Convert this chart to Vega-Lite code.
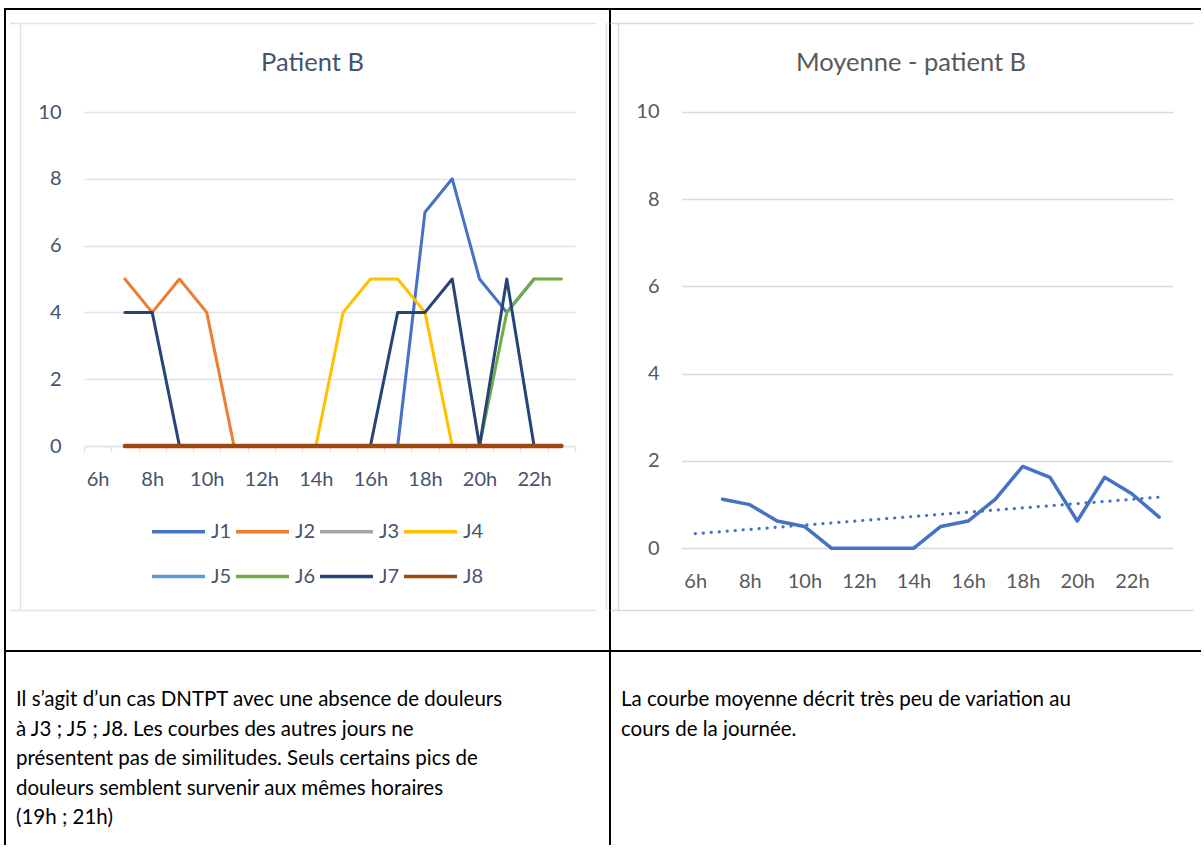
{
  "$schema": "https://vega.github.io/schema/vega-lite/v6.json",
  "background": "#ffffff",
  "padding": {"left": 4, "top": 8, "right": 0, "bottom": 0},
  "config": {"view": {"stroke": null}, "font": "Lato", "text": {"font": "Lato"}},
  "spacing": 0,
  "bounds": "flush",
  "columns": 2,
  "concat": [
    {
      "width": 605,
      "height": 642,
      "view": {"stroke": "#000000", "strokeWidth": 2},
      "title": {"text": "Patient B", "anchor": "middle", "frame": "group", "dx": 5, "offset": -87, "baseline": "alphabetic", "font": "Lato", "fontSize": 25.5, "fontWeight": "normal", "color": "#44546A"},
      "layer": [
        {
          "data": {"values": [{"f": 0}, {"f": 1}]},
          "mark": {"type": "point", "opacity": 0},
          "encoding": {
            "x": {"field": "f", "type": "quantitative", "scale": {"domain": [0, 1], "range": [14.5, 600.5], "nice": false, "zero": false},
                  "axis": {"orient": "top", "values": [0, 1], "grid": true, "gridColor": "#DEE3EA", "gridWidth": 1.5, "labels": false, "ticks": false, "domain": false, "title": null}},
            "y": {"field": "f", "type": "quantitative", "scale": {"domain": [0, 1], "range": [601, 13.5], "nice": false, "zero": false},
                  "axis": {"orient": "right", "values": [0, 1], "grid": true, "gridColor": "#DEE3EA", "gridWidth": 1.5, "labels": false, "ticks": false, "domain": false, "title": null}}
          }
        },
        {
          "data": {"values": [
            {"jour": "J1", "heure": 7, "valeur": 0}, {"jour": "J1", "heure": 8, "valeur": 0}, {"jour": "J1", "heure": 9, "valeur": 0}, {"jour": "J1", "heure": 10, "valeur": 0},
            {"jour": "J1", "heure": 11, "valeur": 0}, {"jour": "J1", "heure": 12, "valeur": 0}, {"jour": "J1", "heure": 13, "valeur": 0}, {"jour": "J1", "heure": 14, "valeur": 0},
            {"jour": "J1", "heure": 15, "valeur": 0}, {"jour": "J1", "heure": 16, "valeur": 0}, {"jour": "J1", "heure": 17, "valeur": 0}, {"jour": "J1", "heure": 18, "valeur": 7},
            {"jour": "J1", "heure": 19, "valeur": 8}, {"jour": "J1", "heure": 20, "valeur": 5}, {"jour": "J1", "heure": 21, "valeur": 4}, {"jour": "J1", "heure": 22, "valeur": 5},
            {"jour": "J2", "heure": 7, "valeur": 5}, {"jour": "J2", "heure": 8, "valeur": 4}, {"jour": "J2", "heure": 9, "valeur": 5}, {"jour": "J2", "heure": 10, "valeur": 4},
            {"jour": "J2", "heure": 11, "valeur": 0}, {"jour": "J2", "heure": 12, "valeur": 0}, {"jour": "J2", "heure": 13, "valeur": 0}, {"jour": "J2", "heure": 14, "valeur": 0},
            {"jour": "J2", "heure": 15, "valeur": 0}, {"jour": "J2", "heure": 16, "valeur": 0}, {"jour": "J2", "heure": 17, "valeur": 0}, {"jour": "J2", "heure": 18, "valeur": 0},
            {"jour": "J2", "heure": 19, "valeur": 0}, {"jour": "J2", "heure": 20, "valeur": 0}, {"jour": "J2", "heure": 21, "valeur": 0}, {"jour": "J2", "heure": 22, "valeur": 0},
            {"jour": "J2", "heure": 23, "valeur": 0},
            {"jour": "J3", "heure": 7, "valeur": 0}, {"jour": "J3", "heure": 8, "valeur": 0}, {"jour": "J3", "heure": 9, "valeur": 0}, {"jour": "J3", "heure": 10, "valeur": 0},
            {"jour": "J3", "heure": 11, "valeur": 0}, {"jour": "J3", "heure": 12, "valeur": 0}, {"jour": "J3", "heure": 13, "valeur": 0}, {"jour": "J3", "heure": 14, "valeur": 0},
            {"jour": "J3", "heure": 15, "valeur": 0}, {"jour": "J3", "heure": 16, "valeur": 0}, {"jour": "J3", "heure": 17, "valeur": 0}, {"jour": "J3", "heure": 18, "valeur": 0},
            {"jour": "J3", "heure": 19, "valeur": 0}, {"jour": "J3", "heure": 20, "valeur": 0}, {"jour": "J3", "heure": 21, "valeur": 0}, {"jour": "J3", "heure": 22, "valeur": 0},
            {"jour": "J3", "heure": 23, "valeur": 0},
            {"jour": "J4", "heure": 7, "valeur": 0}, {"jour": "J4", "heure": 8, "valeur": 0}, {"jour": "J4", "heure": 9, "valeur": 0}, {"jour": "J4", "heure": 10, "valeur": 0},
            {"jour": "J4", "heure": 11, "valeur": 0}, {"jour": "J4", "heure": 12, "valeur": 0}, {"jour": "J4", "heure": 13, "valeur": 0}, {"jour": "J4", "heure": 14, "valeur": 0},
            {"jour": "J4", "heure": 15, "valeur": 4}, {"jour": "J4", "heure": 16, "valeur": 5}, {"jour": "J4", "heure": 17, "valeur": 5}, {"jour": "J4", "heure": 18, "valeur": 4},
            {"jour": "J4", "heure": 19, "valeur": 0}, {"jour": "J4", "heure": 20, "valeur": 0}, {"jour": "J4", "heure": 21, "valeur": 0}, {"jour": "J4", "heure": 22, "valeur": 0},
            {"jour": "J4", "heure": 23, "valeur": 0},
            {"jour": "J5", "heure": 7, "valeur": 0}, {"jour": "J5", "heure": 8, "valeur": 0}, {"jour": "J5", "heure": 9, "valeur": 0}, {"jour": "J5", "heure": 10, "valeur": 0},
            {"jour": "J5", "heure": 11, "valeur": 0}, {"jour": "J5", "heure": 12, "valeur": 0}, {"jour": "J5", "heure": 13, "valeur": 0}, {"jour": "J5", "heure": 14, "valeur": 0},
            {"jour": "J5", "heure": 15, "valeur": 0}, {"jour": "J5", "heure": 16, "valeur": 0}, {"jour": "J5", "heure": 17, "valeur": 0}, {"jour": "J5", "heure": 18, "valeur": 0},
            {"jour": "J5", "heure": 19, "valeur": 0}, {"jour": "J5", "heure": 20, "valeur": 0}, {"jour": "J5", "heure": 21, "valeur": 0}, {"jour": "J5", "heure": 22, "valeur": 0},
            {"jour": "J5", "heure": 23, "valeur": 0},
            {"jour": "J6", "heure": 7, "valeur": 0}, {"jour": "J6", "heure": 8, "valeur": 0}, {"jour": "J6", "heure": 9, "valeur": 0}, {"jour": "J6", "heure": 10, "valeur": 0},
            {"jour": "J6", "heure": 11, "valeur": 0}, {"jour": "J6", "heure": 12, "valeur": 0}, {"jour": "J6", "heure": 13, "valeur": 0}, {"jour": "J6", "heure": 14, "valeur": 0},
            {"jour": "J6", "heure": 15, "valeur": 0}, {"jour": "J6", "heure": 16, "valeur": 0}, {"jour": "J6", "heure": 17, "valeur": 0}, {"jour": "J6", "heure": 18, "valeur": 0},
            {"jour": "J6", "heure": 19, "valeur": 0}, {"jour": "J6", "heure": 20, "valeur": 0}, {"jour": "J6", "heure": 21, "valeur": 4}, {"jour": "J6", "heure": 22, "valeur": 5},
            {"jour": "J6", "heure": 23, "valeur": 5},
            {"jour": "J7", "heure": 7, "valeur": 4}, {"jour": "J7", "heure": 8, "valeur": 4}, {"jour": "J7", "heure": 9, "valeur": 0}, {"jour": "J7", "heure": 10, "valeur": 0},
            {"jour": "J7", "heure": 11, "valeur": 0}, {"jour": "J7", "heure": 12, "valeur": 0}, {"jour": "J7", "heure": 13, "valeur": 0}, {"jour": "J7", "heure": 14, "valeur": 0},
            {"jour": "J7", "heure": 15, "valeur": 0}, {"jour": "J7", "heure": 16, "valeur": 0}, {"jour": "J7", "heure": 17, "valeur": 4}, {"jour": "J7", "heure": 18, "valeur": 4},
            {"jour": "J7", "heure": 19, "valeur": 5}, {"jour": "J7", "heure": 20, "valeur": 0}, {"jour": "J7", "heure": 21, "valeur": 5}, {"jour": "J7", "heure": 22, "valeur": 0},
            {"jour": "J7", "heure": 23, "valeur": 0},
            {"jour": "J8", "heure": 7, "valeur": 0}, {"jour": "J8", "heure": 8, "valeur": 0}, {"jour": "J8", "heure": 9, "valeur": 0}, {"jour": "J8", "heure": 10, "valeur": 0},
            {"jour": "J8", "heure": 11, "valeur": 0}, {"jour": "J8", "heure": 12, "valeur": 0}, {"jour": "J8", "heure": 13, "valeur": 0}, {"jour": "J8", "heure": 14, "valeur": 0},
            {"jour": "J8", "heure": 15, "valeur": 0}, {"jour": "J8", "heure": 16, "valeur": 0}, {"jour": "J8", "heure": 17, "valeur": 0}, {"jour": "J8", "heure": 18, "valeur": 0},
            {"jour": "J8", "heure": 19, "valeur": 0}, {"jour": "J8", "heure": 20, "valeur": 0}, {"jour": "J8", "heure": 21, "valeur": 0}, {"jour": "J8", "heure": 22, "valeur": 0},
            {"jour": "J8", "heure": 23, "valeur": 0}
          ]},
          "encoding": {
            "x": {"field": "heure", "type": "quantitative",
                  "scale": {"domain": [5.5, 23.5], "range": [79, 570], "nice": false, "zero": false},
                  "axis": {"orient": "bottom", "offset": -205,
                           "values": [5.5, 6.5, 7.5, 8.5, 9.5, 10.5, 11.5, 12.5, 13.5, 14.5, 15.5, 16.5, 17.5, 18.5, 19.5, 20.5, 21.5, 22.5, 23.5],
                           "labelExpr": "(datum.value % 2 == 1.5 && datum.value < 23) ? (datum.value + 0.5) + 'h' : ''",
                           "labelOffset": 13.64, "labelOverlap": false, "labelFlush": false, "labelBound": false,
                           "ticks": true, "tickSize": 6, "tickColor": "#DEE3EA", "tickWidth": 1.5,
                           "domain": true, "domainColor": "#DEE3EA", "domainWidth": 1.5, "grid": false,
                           "labelFont": "Lato", "labelFontSize": 20, "labelColor": "#44546A", "labelPadding": 33, "labelBaseline": "alphabetic",
                           "title": null}},
            "y": {"field": "valeur", "type": "quantitative",
                  "scale": {"domain": [0, 10], "range": [437, 103], "nice": false, "zero": false},
                  "axis": {"orient": "left", "offset": -79, "values": [0, 2, 4, 6, 8, 10],
                           "grid": true, "gridColor": "#DEE3EA", "gridWidth": 1.5, "domain": false, "ticks": false, "tickSize": 0,
                           "labelPadding": 23, "labelFont": "Lato", "labelFontSize": 20, "labelColor": "#44546A", "labelOverlap": false,
                           "title": null}},
            "color": {"field": "jour", "type": "nominal",
                      "scale": {"domain": ["J1", "J2", "J3", "J4", "J5", "J6", "J7", "J8"],
                                "range": ["#4472C4", "#ED7D31", "#A5A5A5", "#FFC000", "#5B9BD5", "#70AD47", "#264478", "#9E480E"]},
                      "legend": {"orient": "none", "legendX": 145, "legendY": 494, "columns": 4, "direction": "horizontal", "title": null,
                                 "symbolType": "stroke", "symbolSize": 2809, "symbolStrokeWidth": 3.5,
                                 "labelFont": "Lato", "labelFontSize": 20, "labelColor": "#44546A", "labelOffset": 4,
                                 "columnPadding": -3, "rowPadding": 6, "padding": 0, "gridAlign": "all"}}
          },
          "layer": [
            {"mark": {"type": "line", "strokeWidth": 3, "strokeCap": "round", "strokeJoin": "round"}},
            {"transform": [{"filter": "datum.jour === 'J8'"}], "mark": {"type": "line", "strokeWidth": 4.5, "strokeCap": "round", "strokeJoin": "round"}}
          ]
        }
      ],
      "resolve": {"scale": {"x": "independent", "y": "independent"}, "axis": {"x": "independent", "y": "independent"}}
    },
    {
      "width": 591,
      "height": 642,
      "view": {"stroke": "#000000", "strokeWidth": 2, "strokeDash": [591, 642]},
      "title": {"text": "Moyenne - patient B", "anchor": "middle", "frame": "group", "dx": 5.5, "offset": -87, "baseline": "alphabetic", "font": "Lato", "fontSize": 25.5, "fontWeight": "normal", "color": "#595959"},
      "layer": [
        {
          "data": {"values": [{"f": 0}, {"f": 1}]},
          "mark": {"type": "point", "opacity": 0},
          "encoding": {
            "x": {"field": "f", "type": "quantitative", "scale": {"domain": [0, 1], "range": [8, 591], "nice": false, "zero": false},
                  "axis": {"orient": "top", "values": [0], "grid": true, "gridColor": "#D9D9D9", "gridWidth": 1.5, "labels": false, "ticks": false, "domain": false, "title": null}},
            "y": {"field": "f", "type": "quantitative", "scale": {"domain": [0, 1], "range": [601, 13.5], "nice": false, "zero": false},
                  "axis": {"orient": "right", "values": [0, 1], "grid": true, "gridColor": "#D9D9D9", "gridWidth": 1.5, "labels": false, "ticks": false, "domain": false, "title": null}}
          }
        },
        {
          "data": {"values": [
            {"heure": 7, "moyenne": 1.125}, {"heure": 8, "moyenne": 1.0}, {"heure": 9, "moyenne": 0.625}, {"heure": 10, "moyenne": 0.5},
            {"heure": 11, "moyenne": 0}, {"heure": 12, "moyenne": 0}, {"heure": 13, "moyenne": 0}, {"heure": 14, "moyenne": 0},
            {"heure": 15, "moyenne": 0.5}, {"heure": 16, "moyenne": 0.625}, {"heure": 17, "moyenne": 1.125}, {"heure": 18, "moyenne": 1.875},
            {"heure": 19, "moyenne": 1.625}, {"heure": 20, "moyenne": 0.625}, {"heure": 21, "moyenne": 1.625}, {"heure": 22, "moyenne": 1.25},
            {"heure": 23, "moyenne": 0.714}
          ]},
          "encoding": {
            "x": {"field": "heure", "type": "quantitative",
                  "scale": {"domain": [5.5, 23.5], "range": [71.6, 562.8], "nice": false, "zero": false},
                  "axis": {"orient": "bottom", "offset": -102.7, "values": [6, 8, 10, 12, 14, 16, 18, 20, 22],
                           "labelExpr": "datum.value + 'h'", "labelOverlap": false, "labelFlush": false, "labelBound": false,
                           "ticks": false, "tickSize": 0, "domain": false, "grid": false,
                           "labelFont": "Lato", "labelFontSize": 20, "labelColor": "#595959", "labelPadding": 39, "labelBaseline": "alphabetic",
                           "title": null}},
            "y": {"field": "moyenne", "type": "quantitative",
                  "scale": {"domain": [0, 10], "range": [539.3, 102.7], "nice": false, "zero": false},
                  "axis": {"orient": "left", "offset": -71.6, "values": [0, 2, 4, 6, 8, 10],
                           "grid": true, "gridColor": "#D9D9D9", "gridWidth": 1.5, "domain": false, "ticks": false, "tickSize": 0,
                           "labelPadding": 22.6, "labelFont": "Lato", "labelFontSize": 20, "labelColor": "#595959", "labelOverlap": false,
                           "title": null}}
          },
          "layer": [
            {"mark": {"type": "line", "color": "#4472C4", "strokeWidth": 3.5, "strokeCap": "round", "strokeJoin": "round"}},
            {"transform": [{"regression": "moyenne", "on": "heure", "extent": [6, 23]}],
             "mark": {"type": "line", "color": "#4472C4", "strokeWidth": 3.2, "strokeCap": "round", "strokeDash": [0.1, 7.9]}}
          ]
        }
      ],
      "resolve": {"scale": {"x": "independent", "y": "independent"}, "axis": {"x": "independent", "y": "independent"}}
    },
    {
      "width": 605,
      "height": 194,
      "view": {"stroke": "#000000", "strokeWidth": 2, "strokeDash": [799, 605, 194, 0]},
      "data": {"values": [
        {"ligne": 1, "texte": "Il s’agit d’un cas DNTPT avec une absence de douleurs"},
        {"ligne": 2, "texte": "à J3 ; J5 ; J8.  Les courbes des autres jours ne"},
        {"ligne": 3, "texte": "présentent pas de similitudes. Seuls certains pics de"},
        {"ligne": 4, "texte": "douleurs semblent survenir aux mêmes horaires"},
        {"ligne": 5, "texte": "(19h ; 21h)"}
      ]},
      "mark": {"type": "text", "align": "left", "baseline": "alphabetic", "font": "Lato", "fontSize": 20.5, "color": "#000000"},
      "encoding": {
        "x": {"datum": 0, "type": "quantitative", "scale": {"domain": [0, 1], "range": [11, 600]}, "axis": null},
        "y": {"field": "ligne", "type": "quantitative", "scale": {"domain": [1, 5], "range": [55, 173], "nice": false, "zero": false}, "axis": null},
        "text": {"field": "texte"}
      }
    },
    {
      "width": 591,
      "height": 194,
      "view": {"stroke": null},
      "data": {"values": [
        {"ligne": 1, "texte": "La courbe moyenne décrit très peu de variation au"},
        {"ligne": 2, "texte": "cours de la journée."}
      ]},
      "mark": {"type": "text", "align": "left", "baseline": "alphabetic", "font": "Lato", "fontSize": 20.5, "color": "#000000"},
      "encoding": {
        "x": {"datum": 0, "type": "quantitative", "scale": {"domain": [0, 1], "range": [11, 585]}, "axis": null},
        "y": {"field": "ligne", "type": "quantitative", "scale": {"domain": [1, 5], "range": [55, 173], "nice": false, "zero": false}, "axis": null},
        "text": {"field": "texte"}
      }
    }
  ]
}
